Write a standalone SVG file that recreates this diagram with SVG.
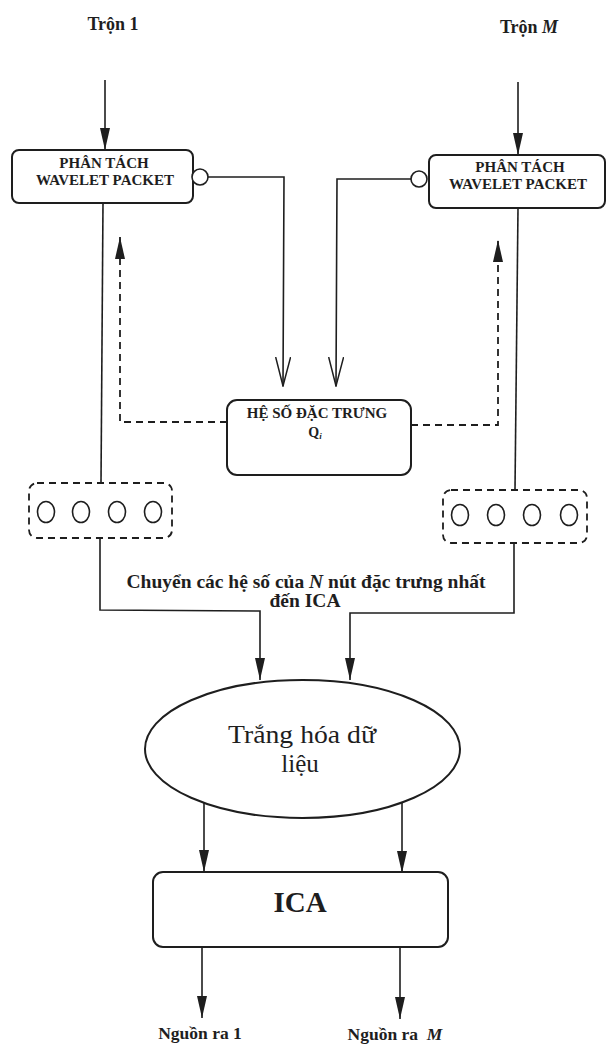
<svg xmlns="http://www.w3.org/2000/svg" width="606" height="1047" viewBox="0 0 606 1047">
<style>
.t{font-family:"Liberation Serif","Times New Roman",serif;fill:#1e1e1e;text-anchor:middle}
.b{font-weight:bold}
.box{fill:#fff;stroke:#1e1e1e;stroke-width:2}
.ln{fill:none;stroke:#1e1e1e;stroke-width:1.6}
.dl{fill:none;stroke:#1e1e1e;stroke-width:1.8;stroke-dasharray:7,5}
.c{fill:#fff;stroke:#1e1e1e;stroke-width:1.6}
</style>
<defs>
<marker id="fd" viewBox="0 0 22 10" refX="22" refY="5" markerWidth="22" markerHeight="10" markerUnits="userSpaceOnUse" orient="auto">
<path d="M0,0 L22,5 L0,10 Z" fill="#1e1e1e"/>
</marker>
<marker id="ov" viewBox="0 0 30 16" refX="29" refY="8" markerWidth="30" markerHeight="16" markerUnits="userSpaceOnUse" orient="auto">
<path d="M0,0.5 L29,8 L0,15.5" fill="none" stroke="#1e1e1e" stroke-width="1.5"/>
</marker>
</defs>

<g id="labels">
<text class="t b" x="113" y="30" font-size="18">Trộn 1</text>
<text class="t b" x="529" y="33" font-size="18">Trộn <tspan font-style="italic">M</tspan></text>
<text class="t b" x="306" y="588" font-size="19.5">Chuyển các hệ số của <tspan font-style="italic">N</tspan> nút đặc trưng nhất</text>
<text class="t b" x="305" y="607" font-size="19.5">đến ICA</text>
<text class="t b" x="200" y="1039" font-size="17.5">Nguồn ra 1</text>
<text class="t b" x="395" y="1040" font-size="17.5">Nguồn ra&#160; <tspan font-style="italic">M</tspan></text>
</g>

<g id="connectors">
<line class="ln" x1="105" y1="80" x2="105" y2="150" marker-end="url(#fd)"/>
<line class="ln" x1="518" y1="82" x2="518" y2="155" marker-end="url(#fd)"/>
<polyline class="ln" points="208,177 284,177 283,386" marker-end="url(#ov)"/>
<polyline class="ln" points="411,179 337,179 336,386" marker-end="url(#ov)"/>
<polyline class="dl" points="227,422 120,422 120,237" marker-end="url(#fd)"/>
<polyline class="dl" points="411,425 498,425 498,240" marker-end="url(#fd)"/>
<line class="ln" x1="103" y1="203" x2="101" y2="483"/>
<line class="ln" x1="518" y1="208" x2="515" y2="490"/>
<polyline class="ln" points="100,538 100,610 260,611 260,680" marker-end="url(#fd)"/>
<polyline class="ln" points="514,543 514,613 350,613 350,680" marker-end="url(#fd)"/>
<line class="ln" x1="204" y1="803" x2="204" y2="872" marker-end="url(#fd)"/>
<line class="ln" x1="402" y1="803" x2="402" y2="873" marker-end="url(#fd)"/>
<line class="ln" x1="202" y1="947" x2="202" y2="1018" marker-end="url(#fd)"/>
<line class="ln" x1="400" y1="948" x2="400" y2="1019" marker-end="url(#fd)"/>
</g>

<g id="wp1">
<rect class="box" x="12" y="150" width="181" height="53" rx="7"/>
<text class="t b" x="104" y="168" font-size="15">PHÂN TÁCH</text>
<text class="t b" x="105" y="185" font-size="15">WAVELET PACKET</text>
<circle class="c" cx="200" cy="177" r="8"/>
</g>

<g id="wpM">
<rect class="box" x="429" y="155" width="176" height="53" rx="7"/>
<text class="t b" x="520" y="172" font-size="15">PHÂN TÁCH</text>
<text class="t b" x="518" y="189" font-size="15">WAVELET PACKET</text>
<circle class="c" cx="419" cy="179" r="8"/>
</g>

<g id="heso">
<rect class="box" x="227" y="400" width="184" height="75" rx="10"/>
<text class="t b" x="317" y="418" font-size="15">HỆ SỐ ĐẶC TRƯNG</text>
<text class="t b" x="315" y="437" font-size="14">Q<tspan font-size="9" font-style="italic" dy="2">i</tspan></text>
</g>

<g id="nodes1">
<rect class="dl" x="29" y="483" width="143" height="55" rx="8"/>
<ellipse class="c" cx="46" cy="512" rx="8.5" ry="10.5"/>
<ellipse class="c" cx="81" cy="512" rx="8.5" ry="10.5"/>
<ellipse class="c" cx="117" cy="512" rx="8.5" ry="10.5"/>
<ellipse class="c" cx="153" cy="512" rx="8.5" ry="10.5"/>
</g>

<g id="nodesM">
<rect class="dl" x="443" y="490" width="144" height="53" rx="8"/>
<ellipse class="c" cx="460" cy="515" rx="8.5" ry="10.5"/>
<ellipse class="c" cx="496" cy="515" rx="8.5" ry="10.5"/>
<ellipse class="c" cx="532" cy="515" rx="8.5" ry="10.5"/>
<ellipse class="c" cx="569" cy="515" rx="8.5" ry="10.5"/>
</g>

<g id="whiten">
<ellipse class="box" cx="302.5" cy="749" rx="157.5" ry="69"/>
<text class="t" x="302" y="743" font-size="25" textLength="148" lengthAdjust="spacingAndGlyphs">Trắng hóa dữ</text>
<text class="t" x="300" y="772" font-size="25">liệu</text>
</g>

<g id="ica">
<rect class="box" x="153" y="872" width="295" height="75" rx="10"/>
<text class="t b" x="300" y="912" font-size="29">ICA</text>
</g>
</svg>
